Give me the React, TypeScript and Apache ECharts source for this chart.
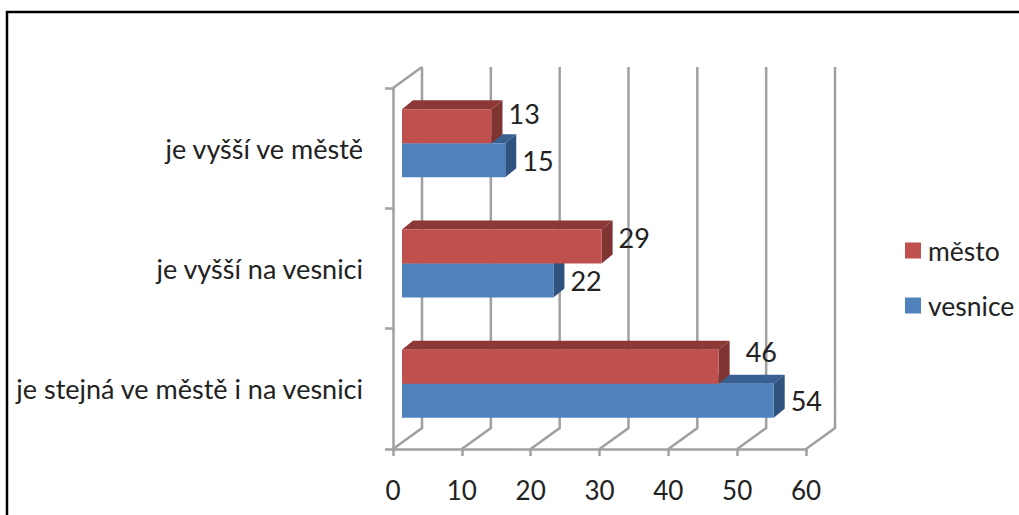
import React, { useEffect, useRef } from "react";
import * as echarts from "echarts";

const categories = ["je stejná ve městě i na vesnici", "je vyšší na vesnici", "je vyšší ve městě"];
const mestoValues = [46, 29, 13];
const vesniceValues = [54, 22, 15];
const xTicks = [0, 10, 20, 30, 40, 50, 60];

const FONT = "Lato, 'Open Sans', sans-serif";
const GRID_COLOR = "#a0a0a0";
const TEXT_COLOR = "#222222";
const mestoLabelOffsets = [[16, -15], [6, -9], [6, -13]];

function makeBarRenderer(front: string, top: string, side: string, sign: number, labelOffsets: number[][] | null) {
  return (_params: any, api: any) => {
    const value = api.value(0);
    const catIndex = api.value(1);
    const end = api.coord([value, catIndex]);
    const start = api.coord([0, catIndex]);
    const x0 = start[0] + 9;
    const x1 = end[0] + 9;
    const mid = end[1] - 5;
    const y0 = sign < 0 ? mid - 34 : mid;
    const y1 = y0 + 34;
    const dx = 11;
    const dy = 9;
    const off = labelOffsets ? labelOffsets[catIndex] : [6, 0];
    return {
      type: "group",
      children: [
        { type: "polygon", shape: { points: [[x0, y0], [x0 + dx, y0 - dy], [x1 + dx, y0 - dy], [x1, y0]] }, style: { fill: top } },
        { type: "polygon", shape: { points: [[x1, y0], [x1 + dx, y0 - dy], [x1 + dx, y1 - dy], [x1, y1]] }, style: { fill: side } },
        { type: "rect", shape: { x: x0, y: y0, width: x1 - x0, height: 34 }, style: { fill: front } },
        {
          type: "text",
          style: {
            text: String(value),
            x: x1 + dx + off[0],
            y: (y0 + y1) / 2 + off[1],
            align: "left",
            verticalAlign: "middle",
            fontFamily: FONT,
            fontSize: 27,
            fill: TEXT_COLOR,
          },
        },
      ],
    };
  };
}

function renderWall(params: any, api: any) {
  const v = api.value(0);
  const rect = params.coordSys;
  const bottom = rect.y + rect.height;
  const p = api.coord([v, 0]);
  const x = p[0];
  const lineStyle = { stroke: GRID_COLOR, lineWidth: 2.5, fill: "none" };
  const children: any[] = [
    { type: "polyline", shape: { points: [[x, bottom], [x + 29, bottom - 21], [x + 29, rect.y - 21]] }, style: lineStyle },
  ];
  if (v === 0) {
    children.push({ type: "line", shape: { x1: x, y1: rect.y, x2: x + 29, y2: rect.y - 21 }, style: lineStyle });
  }
  return { type: "group", children };
}

export default function App() {
  const ref = useRef<HTMLDivElement>(null);
  useEffect(() => {
    const chart = echarts.init(ref.current!, undefined, { renderer: "svg" });
    chart.setOption({
      animation: false,
      backgroundColor: "#ffffff",
      grid: { left: 393, right: 213, top: 88, bottom: 66 },
      legend: {
        data: ["město", "vesnice"],
        orient: "vertical",
        left: 905,
        top: 237,
        padding: 0,
        itemWidth: 16,
        itemHeight: 16,
        itemGap: 28,
        icon: "rect",
        textStyle: { fontFamily: FONT, fontSize: 26.5, color: TEXT_COLOR, padding: [0, 0, 0, 2] },
      },
      xAxis: {
        type: "value",
        min: 0,
        max: 60,
        interval: 10,
        splitLine: { show: false },
        axisLine: { show: true, lineStyle: { color: GRID_COLOR, width: 2.5 } },
        axisTick: { show: true, length: 7, lineStyle: { color: GRID_COLOR, width: 2.5 } },
        axisLabel: { margin: 28, fontFamily: FONT, fontSize: 26, color: TEXT_COLOR, showMinLabel: true, showMaxLabel: true },
      },
      yAxis: {
        type: "category",
        data: categories,
        axisLine: { show: true, lineStyle: { color: GRID_COLOR, width: 2.5 } },
        axisTick: { show: true, length: 8, lineStyle: { color: GRID_COLOR, width: 2.5 } },
        axisLabel: { margin: 30, fontFamily: FONT, fontSize: 27, color: TEXT_COLOR, padding: [8, 0, 0, 0] },
      },
      graphic: [
        {
          type: "polyline",
          shape: { points: [[7, 515], [7, 12], [1019, 12]] },
          style: { stroke: "#000000", lineWidth: 2.5, fill: "none" },
          silent: true,
        },
      ],
      series: [
        {
          type: "custom",
          name: "walls",
          silent: true,
          clip: false,
          z: 1,
          renderItem: renderWall,
          encode: { x: 0, y: 1 },
          data: xTicks.map((v) => [v, 0]),
        },
        {
          type: "custom",
          name: "vesnice",
          clip: false,
          z: 2,
          itemStyle: { color: "#4f81bd" },
          renderItem: makeBarRenderer("#4f81bd", "#386192", "#2f527f", 1, null),
          encode: { x: 0, y: 1 },
          data: vesniceValues.map((v, i) => [v, i]),
        },
        {
          type: "custom",
          name: "město",
          clip: false,
          z: 3,
          itemStyle: { color: "#c0504d" },
          renderItem: makeBarRenderer("#c0504d", "#8c3836", "#7f3432", -1, mestoLabelOffsets),
          encode: { x: 0, y: 1 },
          data: mestoValues.map((v, i) => [v, i]),
        },
      ],
    });
    return () => chart.dispose();
  }, []);
  return <div ref={ref} style={{ position: "fixed", left: 0, top: 0, width: 1019, height: 515 }} />;
}
